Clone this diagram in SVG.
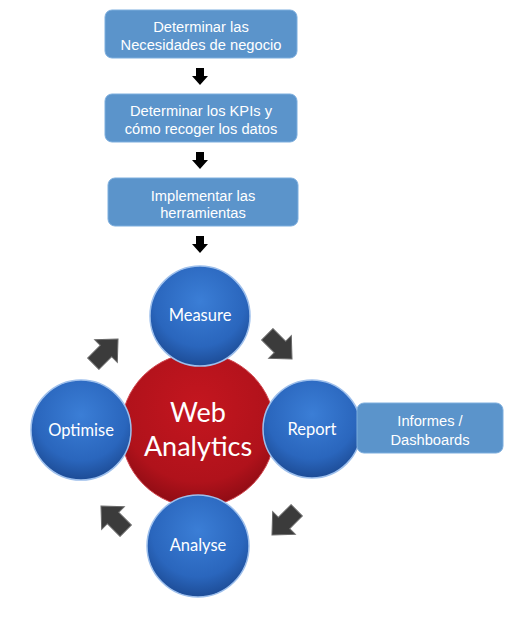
<svg xmlns="http://www.w3.org/2000/svg" width="511" height="624" viewBox="0 0 511 624">
<defs>
<radialGradient id="blueG" cx="0.5" cy="0.35" r="0.65">
<stop offset="0" stop-color="#3b7ed6"/>
<stop offset="0.7" stop-color="#2a66bd"/>
<stop offset="1" stop-color="#1d4c96"/>
</radialGradient>
<radialGradient id="redG" cx="0.5" cy="0.35" r="0.65">
<stop offset="0" stop-color="#c4161f"/>
<stop offset="0.75" stop-color="#b0121b"/>
<stop offset="1" stop-color="#8e0c14"/>
</radialGradient>
<path id="blk" d="M-18,-8 L0,-8 L0,-16 L17,0 L0,16 L0,8 L-18,8 Z"/>
</defs>
<style>
.box{fill:#5b94cb;stroke:#7daede;stroke-width:1}
.bt{font-family:"Liberation Sans",Arial,sans-serif;font-size:14.7px;fill:#ffffff;text-anchor:middle}
.ct{font-family:Lato,"Open Sans",sans-serif;font-size:16.5px;fill:#ffffff;text-anchor:middle}
.bc{fill:url(#blueG);stroke:#9dbfec;stroke-width:1.5}
.arr{fill:#000000}
.garr{fill:#3b3b3b;stroke:#6a6a6a;stroke-width:1}
</style>
<rect width="511" height="624" fill="#ffffff"/>

<g id="connectors">
<path class="arr" d="M196,68 H204 V76 H208 L200,85 L192,76 H196 Z"/>
<path class="arr" d="M196,152 H204 V160 H208 L200,169 L192,160 H196 Z"/>
<path class="arr" d="M196,236 H204 V244 H208 L200,253 L192,244 H196 Z"/>
<use href="#blk" class="garr" transform="translate(106,351) rotate(-45)"/>
<use href="#blk" class="garr" transform="translate(280,347) rotate(45)"/>
<use href="#blk" class="garr" transform="translate(284,523) rotate(135)"/>
<use href="#blk" class="garr" transform="translate(113,518) rotate(-135)"/>
</g>

<g id="step1">
<rect class="box" x="105" y="10" width="192" height="48" rx="7"/>
<text class="bt" x="201" y="32">Determinar las</text>
<text class="bt" x="201" y="50">Necesidades de negocio</text>
</g>
<g id="step2">
<rect class="box" x="105" y="94" width="192" height="48" rx="7"/>
<text class="bt" x="201" y="116">Determinar los KPIs y</text>
<text class="bt" x="201" y="134">cómo recoger los datos</text>
</g>
<g id="step3">
<rect class="box" x="108" y="178" width="190" height="48" rx="7"/>
<text class="bt" x="203" y="201">Implementar las</text>
<text class="bt" x="203" y="218">herramientas</text>
</g>

<g id="web-analytics">
<circle cx="198" cy="430" r="77" fill="url(#redG)" stroke="#d24a52" stroke-width="1"/>
<text x="198" y="422" font-family="Lato,'Open Sans',sans-serif" font-size="27" fill="#ffffff" text-anchor="middle">Web</text>
<text x="198" y="456" font-family="Lato,'Open Sans',sans-serif" font-size="27" fill="#ffffff" text-anchor="middle">Analytics</text>
</g>
<g id="measure">
<circle class="bc" cx="200" cy="316" r="50"/>
<text class="ct" x="200" y="321">Measure</text>
</g>
<g id="optimise">
<circle class="bc" cx="81" cy="430" r="50"/>
<text class="ct" x="81" y="436">Optimise</text>
</g>
<g id="report">
<circle class="bc" cx="312" cy="429" r="49"/>
<text class="ct" x="312" y="435">Report</text>
</g>
<g id="analyse">
<circle class="bc" cx="198" cy="546" r="51"/>
<text class="ct" x="198" y="551">Analyse</text>
</g>
<g id="informes">
<rect class="box" x="357" y="403" width="146" height="50" rx="7"/>
<text class="bt" x="430" y="426">Informes /</text>
<text class="bt" x="430" y="445">Dashboards</text>
</g>
</svg>
